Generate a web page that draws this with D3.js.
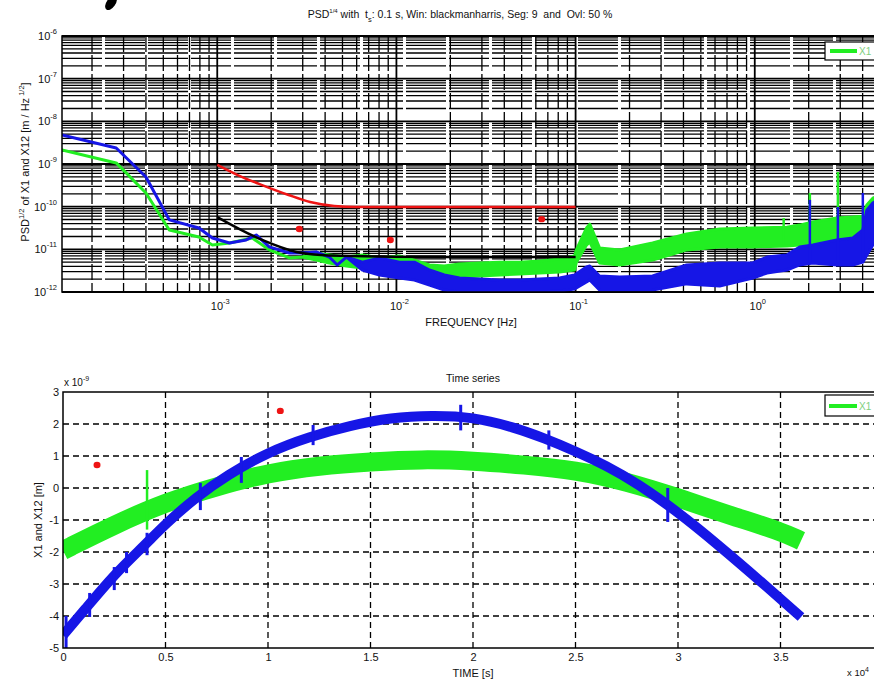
<!DOCTYPE html>
<meta charset="utf-8">

<style type="text/css">
  body {
    margin: 0;
    background: #fff;
  }

  svg text {
    font-family: "Liberation Sans", Arial, sans-serif;
    fill: #111;
    white-space: pre;
  }
</style>

<body>
  <script src="https://d3js.org/d3.v7.min.js"></script>

  <script>
    // ---- PSD panel: frequency [Hz] and amplitude [m / Hz^1/2] ----
    var greenF = [1.36e-4, 2.73e-4, 4.0e-4, 5.4e-4, 7.9e-4, 9.4e-4, 1.17e-3, 1.57e-3, 1.95e-3, 2.53e-3, 2.98e-3,
      3.57e-3, 4.22e-3, 5.26e-3, 6.46e-3, 8.04e-3, 1.04e-2, 1.26e-2, 1.53e-2, 1.85e-2, 2.25e-2, 2.91e-2, 3.76e-2,
      4.86e-2, 6.29e-2, 8.14e-2, 9.87e-2, 0.101, 0.115, 0.120, 0.136, 0.176, 0.269, 0.417, 0.637, 0.975, 1.51,
      1.78, 2.11, 2.87, 3.53, 4.01, 4.22, 4.56, 5.0];
    var greenHi = [2.13e-9, 1.06e-9, 2.09e-10, 2.84e-11, 1.95e-11, 1.26e-11, 1.41e-11, 1.84e-11, 9.7e-12, 6.3e-12, 6.6e-12,
      8.2e-12, 7.4e-12, 6.6e-12, 7.4e-12, 6.3e-12, 7.0e-12, 5.6e-12, 4.3e-12, 4.07e-12, 4.55e-12, 4.8e-12, 5.0e-12,
      5.0e-12, 5.3e-12, 5.9e-12, 7.0e-12, 9.7e-12, 3.16e-11, 3.9e-11, 1.08e-11, 9.7e-12, 1.41e-11, 2.29e-11, 2.98e-11, 3.16e-11, 3.3e-11,
      3.7e-11, 4.4e-11, 5.4e-11, 5.7e-11, 6.0e-11, 1.09e-10, 1.58e-10, 1.86e-10];
    var greenLo = [2.13e-9, 1.06e-9, 2.09e-10, 2.84e-11, 1.95e-11, 1.26e-11, 1.41e-11, 1.84e-11, 9.7e-12, 6.3e-12, 6.6e-12,
      5.6e-12, 4.8e-12, 4.07e-12, 3.65e-12, 3.28e-12, 3.65e-12, 2.94e-12, 2.25e-12, 2.13e-12, 2.25e-12, 2.38e-12, 2.51e-12,
      2.65e-12, 2.79e-12, 2.94e-12, 3.28e-12, 5.0e-12, 1.26e-11, 1.49e-11, 4.8e-12, 4.3e-12, 5.6e-12, 9.7e-12, 1.14e-11, 1.14e-11, 1.2e-11,
      1.26e-11, 1.41e-11, 1.49e-11, 1.84e-11, 1.95e-11, 2.06e-11, 2.84e-11, 3.16e-11];

    var blueF = [1.36e-4, 2.73e-4, 4.0e-4, 5.4e-4, 7.9e-4, 9.4e-4, 1.17e-3, 1.45e-3, 1.65e-3, 1.95e-3, 2.53e-3, 2.98e-3,
      3.57e-3, 4.22e-3, 4.68e-3, 5.26e-3, 6.46e-3, 8.04e-3, 1.04e-2, 1.26e-2, 1.53e-2, 1.85e-2, 2.25e-2, 2.91e-2,
      3.76e-2, 4.86e-2, 6.29e-2, 8.14e-2, 9.87e-2, 0.115, 0.120, 0.136, 0.176, 0.269, 0.417, 0.637, 0.975, 1.17,
      1.51, 1.78, 2.11, 2.87, 3.53, 4.01, 4.22, 4.56, 5.0];
    var blueHi = [4.79e-9, 2.37e-9, 4.96e-10, 4.9e-11, 3.16e-11, 1.84e-11, 1.41e-11, 1.66e-11, 2.17e-11, 1.14e-11, 8.2e-12, 8.2e-12,
      8.7e-12, 6.6e-12, 4.3e-12, 6.6e-12, 5.0e-12, 6.3e-12, 5.0e-12, 5.0e-12, 3.28e-12, 2.51e-12, 2.13e-12, 2.02e-12,
      1.91e-12, 1.91e-12, 2.02e-12, 2.13e-12, 2.51e-12, 3.86e-12, 4.07e-12, 2.38e-12, 2.25e-12, 2.38e-12, 4.3e-12, 4.8e-12, 4.8e-12, 6.6e-12,
      7.4e-12, 1.14e-11, 1.26e-11, 1.66e-11, 1.84e-11, 2.84e-11, 8.3e-11, 1.22e-10, 1.58e-10];
    var blueLo = [4.79e-9, 2.37e-9, 4.96e-10, 4.9e-11, 3.16e-11, 1.84e-11, 1.41e-11, 1.66e-11, 2.17e-11, 1.14e-11, 8.2e-12, 8.2e-12,
      8.7e-12, 6.6e-12, 4.3e-12, 6.6e-12, 3.28e-12, 2.51e-12, 2.13e-12, 1.91e-12, 1.46e-12, 1.11e-12, 1.0e-12, 1.0e-12,
      1.0e-12, 1.0e-12, 1.0e-12, 1.05e-12, 1.18e-12, 1.72e-12, 1.91e-12, 1.11e-12, 1.11e-12, 1.11e-12, 1.55e-12, 1.38e-12, 2.13e-12, 2.79e-12,
      3.28e-12, 4.3e-12, 4.8e-12, 4.3e-12, 4.3e-12, 5.0e-12, 7.4e-12, 1.26e-11, 1.66e-11];

    // narrow lines sticking out of the noise
    var greenSpikeF = [1.45, 2.03, 2.91];
    var greenSpikeTop = [5.4e-11, 2.09e-10, 6.5e-10];
    var greenSpikeBase = [1.2e-11, 1.3e-11, 1.5e-11];
    var blueSpikeF = [2.03, 2.91, 4.01];
    var blueSpikeTop = [1.44e-10, 9.8e-11, 2.09e-10];
    var blueSpikeBase = [5e-12, 5e-12, 5e-12];

    var redF = [1e-3, 1.3e-3, 1.78e-3, 2.5e-3, 3.3e-3, 4.5e-3, 6e-3, 0.1];
    var redV = [9.5e-10, 5.5e-10, 3.2e-10, 1.88e-10, 1.29e-10, 1.04e-10, 9.8e-11, 9.8e-11];
    var blackF = [1e-3, 1.78e-3, 2.76e-3, 4.2e-3, 2e-2, 0.1];
    var blackV = [5.7e-11, 1.66e-11, 8.7e-12, 7.2e-12, 6.6e-12, 6.6e-12];

    var psdMarkF = [2.87e-3, 9.25e-3, 6.46e-2];
    var psdMarkV = [3.0e-11, 1.66e-11, 5.1e-11];

    var psdXTicks = [1e-3, 1e-2, 1e-1, 1];
    var psdXExp = ['-3', '-2', '-1', '0'];
    var psdYTicks = [1e-6, 1e-7, 1e-8, 1e-9, 1e-10, 1e-11, 1e-12];
    var psdYExp = ['-6', '-7', '-8', '-9', '-10', '-11', '-12'];

    // ---- time series panel: time [x 10^4 s] and value [x 10^-9 m] ----
    var tsGreenT = [0, 0.25, 0.5, 0.75, 1.0, 1.25, 1.5, 1.75, 2.0, 2.25, 2.5, 2.75, 3.0, 3.25, 3.5, 3.6];
    var tsGreenV = [-1.95, -1.15, -0.45, 0.05, 0.47, 0.7, 0.82, 0.9, 0.85, 0.72, 0.56, 0.2, -0.3, -0.85, -1.35, -1.65];
    var tsBlueT = [0, 0.1, 0.25, 0.4, 0.5, 0.65, 0.8, 1.0, 1.2, 1.4, 1.6, 1.8, 2.0, 2.2, 2.35, 2.5, 2.65, 2.8, 3.0, 3.2, 3.4, 3.6];
    var tsBlueV = [-4.6, -3.85, -2.7, -1.78, -1.12, -0.28, 0.4, 1.12, 1.6, 1.95, 2.2, 2.27, 2.22, 1.9, 1.55, 1.15, 0.7, 0.15, -0.75, -1.8, -2.9, -4.03];

    var tsBlueSpikeT = [0.015, 0.13, 0.25, 0.31, 0.41, 0.67, 0.87, 1.22, 1.94, 2.37, 2.95];
    var tsBlueSpikeLo = [-5.0, -4.03, -3.19, -2.66, -2.1, -0.69, 0.16, 1.34, 1.8, 1.2, -1.06];
    var tsBlueSpikeHi = [-4.0, -3.28, -2.47, -2.0, -1.4, 0.16, 0.97, 1.97, 2.6, 1.8, 0.0];
    var tsGreenSpikeT = [0.41];
    var tsGreenSpikeLo = [-1.3];
    var tsGreenSpikeHi = [0.56];

    var tsMarkT = [0.166, 1.06];
    var tsMarkV = [0.72, 2.41];

    var timeTicks = [0, 0.5, 1, 1.5, 2, 2.5, 3, 3.5];
    var valueTicks = [-5, -4, -3, -2, -1, 0, 1, 2, 3];

    var GREEN = '#22ee22',
      BLUE = '#1616e6',
      RED = '#ee1414';

    var svg = d3.select('body')
      .append('svg')
      .attr('width', 874)
      .attr('height', 679);

    function isDecade(d) {
      var l = Math.log10(d);
      return Math.abs(l - Math.round(l)) < 1e-6;
    }

    function powLabel(sel, exp) {
      sel.append('tspan').text('10');
      sel.append('tspan').attr('dy', -6).attr('font-size', 7.5).text(exp);
    }

    // =========== PSD panel ===========
    var pL = 62,
      pR = 880,
      pT = 36,
      pB = 292;
    var xF = d3.scaleLog().domain([1.36e-4, 5]).range([pL, pR]);
    var yP = d3.scaleLog().domain([1e-12, 1e-6]).range([pB, pT]);

    svg.append('clipPath').attr('id', 'clipTop')
      .append('rect').attr('x', pL).attr('y', pT).attr('width', pR - pL).attr('height', pB - pT);

    var gGrid = svg.append('g');
    gGrid.selectAll('line.gx')
      .data(xF.ticks())
      .enter()
      .append('line')
      .attr('x1', function(d) { return xF(d); })
      .attr('x2', function(d) { return xF(d); })
      .attr('y1', pT)
      .attr('y2', pB)
      .attr('stroke', '#000')
      .attr('stroke-width', function(d) { return isDecade(d) ? 1.8 : 1.3; })
      .attr('stroke-dasharray', function(d) { return isDecade(d) ? null : '16,3'; });

    gGrid.selectAll('line.gy')
      .data(yP.ticks())
      .enter()
      .append('line')
      .attr('x1', pL)
      .attr('x2', pR)
      .attr('y1', function(d) { return yP(d); })
      .attr('y2', function(d) { return yP(d); })
      .attr('stroke', '#000')
      .attr('stroke-width', function(d) { return isDecade(d) ? 1.8 : 1.3; })
      .attr('stroke-dasharray', function(d) { return isDecade(d) ? null : '40,3'; });

    var plotTop = svg.append('g').attr('clip-path', 'url(#clipTop)');

    var psdArea = d3.area()
      .x(function(d) { return xF(d.f); })
      .y0(function(d) { return yP(d.lo); })
      .y1(function(d) { return yP(d.hi); });

    var greenRows = greenF.map(function(f, i) { return { f: f, lo: greenLo[i], hi: greenHi[i] }; });
    var blueRows = blueF.map(function(f, i) { return { f: f, lo: blueLo[i], hi: blueHi[i] }; });

    plotTop.append('path')
      .datum(greenRows)
      .attr('d', psdArea)
      .attr('fill', GREEN)
      .attr('stroke', GREEN)
      .attr('stroke-width', 3)
      .attr('stroke-linejoin', 'round');

    plotTop.selectAll('line.gspike')
      .data(greenSpikeF)
      .enter()
      .append('line')
      .attr('x1', function(d) { return xF(d); })
      .attr('x2', function(d) { return xF(d); })
      .attr('y1', function(d, i) { return yP(greenSpikeTop[i]); })
      .attr('y2', function(d, i) { return yP(greenSpikeBase[i]); })
      .attr('stroke', GREEN)
      .attr('stroke-width', 2.5);

    plotTop.append('path')
      .datum(blueRows)
      .attr('d', psdArea)
      .attr('fill', BLUE)
      .attr('stroke', BLUE)
      .attr('stroke-width', 3)
      .attr('stroke-linejoin', 'round');

    plotTop.selectAll('line.bspike')
      .data(blueSpikeF)
      .enter()
      .append('line')
      .attr('x1', function(d) { return xF(d); })
      .attr('x2', function(d) { return xF(d); })
      .attr('y1', function(d, i) { return yP(blueSpikeTop[i]); })
      .attr('y2', function(d, i) { return yP(blueSpikeBase[i]); })
      .attr('stroke', BLUE)
      .attr('stroke-width', 2.5);

    var psdLine = d3.line()
      .x(function(d) { return xF(d[0]); })
      .y(function(d) { return yP(d[1]); })
      .curve(d3.curveMonotoneX);

    plotTop.append('path')
      .datum(blackF.map(function(f, i) { return [f, blackV[i]]; }))
      .attr('d', psdLine)
      .attr('fill', 'none')
      .attr('stroke', '#000')
      .attr('stroke-width', 2.5);

    plotTop.append('path')
      .datum(redF.map(function(f, i) { return [f, redV[i]]; }))
      .attr('d', psdLine)
      .attr('fill', 'none')
      .attr('stroke', RED)
      .attr('stroke-width', 2.5);

    plotTop.selectAll('ellipse.mark')
      .data(psdMarkF)
      .enter()
      .append('ellipse')
      .attr('cx', function(d) { return xF(d); })
      .attr('cy', function(d, i) { return yP(psdMarkV[i]); })
      .attr('rx', 3.5)
      .attr('ry', 3.2)
      .attr('fill', RED);

    svg.append('rect')
      .attr('x', pL).attr('y', pT).attr('width', pR - pL).attr('height', pB - pT)
      .attr('fill', 'none').attr('stroke', '#000').attr('stroke-width', 1.5);

    // tick labels
    svg.selectAll('text.xlab')
      .data(psdXTicks)
      .enter()
      .append('text')
      .attr('x', function(d) { return xF(d) + 3; })
      .attr('y', 310)
      .attr('text-anchor', 'middle')
      .attr('font-size', 11)
      .each(function(d, i) { powLabel(d3.select(this), psdXExp[i]); });

    svg.selectAll('text.ylab')
      .data(psdYTicks)
      .enter()
      .append('text')
      .attr('x', 57)
      .attr('y', function(d) { return yP(d) + 4; })
      .attr('text-anchor', 'end')
      .attr('font-size', 11)
      .each(function(d, i) { powLabel(d3.select(this), psdYExp[i]); });

    var title = svg.append('text')
      .attr('x', 460)
      .attr('y', 18)
      .attr('text-anchor', 'middle')
      .attr('font-size', 10.5);
    title.append('tspan').text('PSD');
    title.append('tspan').attr('dy', -5).attr('font-size', 6).text('1/4');
    title.append('tspan').attr('dy', 5).text(' with  t');
    title.append('tspan').attr('dy', 4).attr('font-size', 7.5).text('s');
    title.append('tspan').attr('dy', -4).text(': 0.1 s, Win: blackmanharris, Seg: 9  and  Ovl: 50 %');

    svg.append('text')
      .attr('x', 471)
      .attr('y', 326)
      .attr('text-anchor', 'middle')
      .attr('font-size', 11)
      .text('FREQUENCY [Hz]');

    var yLabTop = svg.append('text')
      .attr('transform', 'translate(29,162) rotate(-90)')
      .attr('text-anchor', 'middle')
      .attr('font-size', 11);
    yLabTop.append('tspan').text('PSD');
    yLabTop.append('tspan').attr('dy', -5).attr('font-size', 7.5).text('1/2');
    yLabTop.append('tspan').attr('dy', 5).text(' of X1 and X12 [m / Hz');
    yLabTop.append('tspan').attr('dy', -5).attr('font-size', 7.5).text(' 1/2');
    yLabTop.append('tspan').attr('dy', 5).text(']');

    // legend (cut by the page edge)
    svg.append('rect')
      .attr('x', 825).attr('y', 42).attr('width', 70).attr('height', 18)
      .attr('fill', '#fff').attr('stroke', '#000').attr('stroke-width', 1.2);
    svg.append('line')
      .attr('x1', 830).attr('x2', 857).attr('y1', 51).attr('y2', 51)
      .attr('stroke', GREEN).attr('stroke-width', 4);
    svg.append('text')
      .attr('x', 859).attr('y', 55).attr('font-size', 10)
      .style('fill', '#7fcf7f')
      .text('X1');

    // =========== time series panel ===========
    var tL = 63,
      tR = 883,
      tT = 392,
      tB = 648;
    var xT = d3.scaleLinear().domain([0, 4]).range([tL, tR]);
    var yT = d3.scaleLinear().domain([-5, 3]).range([tB, tT]);

    svg.append('clipPath').attr('id', 'clipBot')
      .append('rect').attr('x', tL).attr('y', tT).attr('width', tR - tL).attr('height', tB - tT);

    var gGrid2 = svg.append('g');
    gGrid2.selectAll('line.vx')
      .data(timeTicks.filter(function(d) { return d > 0; }))
      .enter()
      .append('line')
      .attr('x1', function(d) { return xT(d); })
      .attr('x2', function(d) { return xT(d); })
      .attr('y1', tT)
      .attr('y2', tB)
      .attr('stroke', '#000')
      .attr('stroke-width', 1.3)
      .attr('stroke-dasharray', '6,4');

    gGrid2.selectAll('line.hy')
      .data(valueTicks.filter(function(d) { return d > -5 && d < 3; }))
      .enter()
      .append('line')
      .attr('x1', tL)
      .attr('x2', tR)
      .attr('y1', function(d) { return yT(d); })
      .attr('y2', function(d) { return yT(d); })
      .attr('stroke', '#000')
      .attr('stroke-width', 1.3)
      .attr('stroke-dasharray', '6,4');

    var plotBot = svg.append('g').attr('clip-path', 'url(#clipBot)');

    var tsLine = d3.line()
      .x(function(d) { return xT(d[0]); })
      .y(function(d) { return yT(d[1]); })
      .curve(d3.curveBasis);

    plotBot.append('path')
      .datum(tsGreenT.map(function(t, i) { return [t, tsGreenV[i]]; }))
      .attr('d', tsLine)
      .attr('fill', 'none')
      .attr('stroke', GREEN)
      .attr('stroke-width', 19)
      .attr('stroke-linecap', 'butt');

    plotBot.selectAll('line.tgs')
      .data(tsGreenSpikeT)
      .enter()
      .append('line')
      .attr('x1', function(d) { return xT(d); })
      .attr('x2', function(d) { return xT(d); })
      .attr('y1', function(d, i) { return yT(tsGreenSpikeLo[i]); })
      .attr('y2', function(d, i) { return yT(tsGreenSpikeHi[i]); })
      .attr('stroke', GREEN)
      .attr('stroke-width', 2.5);

    plotBot.append('path')
      .datum(tsBlueT.map(function(t, i) { return [t, tsBlueV[i]]; }))
      .attr('d', tsLine)
      .attr('fill', 'none')
      .attr('stroke', BLUE)
      .attr('stroke-width', 10)
      .attr('stroke-linecap', 'butt');

    plotBot.selectAll('line.tbs')
      .data(tsBlueSpikeT)
      .enter()
      .append('line')
      .attr('x1', function(d) { return xT(d); })
      .attr('x2', function(d) { return xT(d); })
      .attr('y1', function(d, i) { return yT(tsBlueSpikeLo[i]); })
      .attr('y2', function(d, i) { return yT(tsBlueSpikeHi[i]); })
      .attr('stroke', BLUE)
      .attr('stroke-width', 3);

    plotBot.selectAll('ellipse.mark')
      .data(tsMarkT)
      .enter()
      .append('ellipse')
      .attr('cx', function(d) { return xT(d); })
      .attr('cy', function(d, i) { return yT(tsMarkV[i]); })
      .attr('rx', 3.5)
      .attr('ry', 3.2)
      .attr('fill', RED);

    svg.append('rect')
      .attr('x', tL).attr('y', tT).attr('width', tR - tL).attr('height', tB - tT)
      .attr('fill', 'none').attr('stroke', '#000').attr('stroke-width', 1.5);

    var xAxisT = svg.append('g')
      .attr('transform', 'translate(0,' + tB + ')')
      .call(d3.axisBottom(xT).tickValues(timeTicks).tickSize(0).tickPadding(5)
        .tickFormat(function(d) { return String(d); }));
    var yAxisT = svg.append('g')
      .attr('transform', 'translate(' + tL + ',0)')
      .call(d3.axisLeft(yT).tickValues(valueTicks).tickSize(0).tickPadding(4)
        .tickFormat(function(d) { return String(d); }));
    [xAxisT, yAxisT].forEach(function(a) {
      a.select('.domain').remove();
      a.selectAll('text')
        .attr('font-size', 11)
        .attr('font-family', '"Liberation Sans", Arial, sans-serif')
        .style('fill', '#111');
    });

    var scaleLab = svg.append('text')
      .attr('x', 64).attr('y', 386).attr('font-size', 10);
    scaleLab.append('tspan').text('x 10');
    scaleLab.append('tspan').attr('dy', -5).attr('font-size', 7).text('-9');

    // exponent of the time axis, in the bottom right corner
    var scaleLab2 = svg.append('text')
      .attr('x', 847).attr('y', 676).attr('font-size', 9.5);
    scaleLab2.append('tspan').text('x 10');
    scaleLab2.append('tspan').attr('dy', -4).attr('font-size', 7).text('4');

    svg.append('text')
      .attr('x', 473).attr('y', 382)
      .attr('text-anchor', 'middle').attr('font-size', 10.5)
      .text('Time series');

    svg.append('text')
      .attr('x', 473).attr('y', 677)
      .attr('text-anchor', 'middle').attr('font-size', 11)
      .text('TIME [s]');

    svg.append('text')
      .attr('transform', 'translate(42,520) rotate(-90)')
      .attr('text-anchor', 'middle').attr('font-size', 11)
      .text('X1 and X12 [m]');

    svg.append('rect')
      .attr('x', 825).attr('y', 395).attr('width', 70).attr('height', 21)
      .attr('fill', '#fff').attr('stroke', '#000').attr('stroke-width', 1.2);
    svg.append('line')
      .attr('x1', 829).attr('x2', 857).attr('y1', 406).attr('y2', 406)
      .attr('stroke', GREEN).attr('stroke-width', 4);
    svg.append('text')
      .attr('x', 859).attr('y', 410).attr('font-size', 10)
      .style('fill', '#7fcf7f')
      .text('X1');

    // scanning blot at the very top
    svg.append('ellipse')
      .attr('cx', 111).attr('cy', 3).attr('rx', 4.5).attr('ry', 8)
      .attr('transform', 'rotate(35,111,3)')
      .attr('fill', '#000');
  </script>
</body>
